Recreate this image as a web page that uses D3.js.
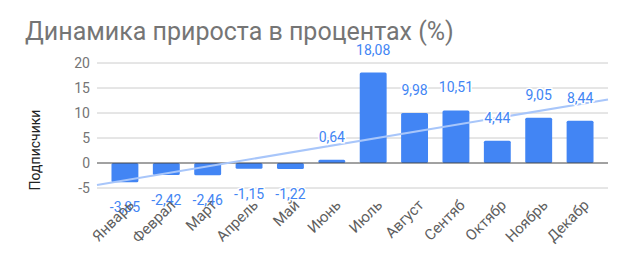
<!DOCTYPE html>
<html>
<head>
<meta charset="utf-8">
<script src="https://cdn.jsdelivr.net/npm/d3@7"></script>
<style>
  body { margin: 0; background: #fff; }
  text { font-family: Roboto, "Noto Sans", sans-serif; }
</style>
</head>
<body>
<script>
// Data
const months = ["Январь", "Феврал", "Март", "Апрель", "Май", "Июнь", "Июль", "Август", "Сентяб", "Октябр", "Ноябрь", "Декабр"];
const growth = [-3.85, -2.42, -2.46, -1.15, -1.22, 0.64, 18.08, 9.98, 10.51, 4.44, 9.05, 8.44];
const yTicks = [-5, 0, 5, 10, 15, 20];

const width = 617, height = 261;
const margin = {top: 63, right: 9, bottom: 73, left: 97};

const svg = d3.select("body").append("svg")
    .attr("width", width)
    .attr("height", height);

const x = d3.scaleBand()
    .domain(months)
    .range([margin.left, width - margin.right])
    .paddingInner(0.35)
    .paddingOuter(0.35);

const y = d3.scaleLinear()
    .domain([-5, 20])
    .range([height - margin.bottom, margin.top]);

// Title
svg.append("text")
    .attr("x", 25)
    .attr("y", 40)
    .attr("fill", "#757575")
    .attr("font-size", "25px")
    .text("Динамика прироста в процентах (%)");

// Gridlines + tick labels
svg.append("g")
  .selectAll("line")
  .data(yTicks.filter(d => d !== 0))
  .join("line")
    .attr("x1", margin.left)
    .attr("x2", width - margin.right)
    .attr("y1", d => y(d))
    .attr("y2", d => y(d))
    .attr("stroke", "#cccccc")
    .attr("stroke-width", 1);

svg.append("g")
  .selectAll("text")
  .data(yTicks)
  .join("text")
    .attr("x", 90)
    .attr("y", d => y(d))
    .attr("dy", "0.35em")
    .attr("text-anchor", "end")
    .attr("fill", "#757575")
    .attr("font-size", "14px")
    .text(d => d);

// Y axis title
svg.append("text")
    .attr("transform", "translate(40,150) rotate(-90)")
    .attr("text-anchor", "middle")
    .attr("fill", "#222")
    .attr("font-size", "14px")
    .text("Подписчики");

// Bars
svg.append("g")
  .selectAll("rect")
  .data(growth)
  .join("rect")
    .attr("x", (d, i) => x(months[i]))
    .attr("y", d => y(Math.max(0, d)))
    .attr("width", x.bandwidth())
    .attr("height", d => Math.abs(y(d) - y(0)))
    .attr("rx", 1.5)
    .attr("fill", "#4285f4");

// Zero line
svg.append("line")
    .attr("x1", margin.left)
    .attr("x2", width - margin.right)
    .attr("y1", y(0))
    .attr("y2", y(0))
    .attr("stroke", "#444")
    .attr("stroke-width", 1);

// Linear trend line (least squares over month index)
const idx = growth.map((d, i) => i);
const mx = d3.mean(idx), my = d3.mean(growth);
const slope = d3.sum(idx, i => (i - mx) * (growth[i] - my)) / d3.sum(idx, i => (i - mx) ** 2);
const intercept = my - slope * mx;
const pos = i => x(months[0]) + x.bandwidth() / 2 + i * x.step();
const toIdx = px => (px - x(months[0]) - x.bandwidth() / 2) / x.step();
const xEnds = [margin.left, width - margin.right];

svg.append("line")
    .attr("x1", xEnds[0])
    .attr("x2", xEnds[1])
    .attr("y1", y(intercept + slope * toIdx(xEnds[0])))
    .attr("y2", y(intercept + slope * toIdx(xEnds[1])))
    .attr("stroke", "#a8c6fa")
    .attr("stroke-width", 2);

// Data labels
const fmt = d => d3.format(".2f")(d).replace(".", ",").replace("\u2212", "-");
svg.append("g")
  .selectAll("text")
  .data(growth)
  .join("text")
    .attr("x", (d, i) => pos(i))
    .attr("y", d => d >= 0 ? y(d) - 18 : y(d) + 30)
    .attr("text-anchor", "middle")
    .attr("fill", "#4285f4")
    .attr("font-size", "14px")
    .attr("stroke", "#fff")
    .attr("stroke-width", 3)
    .attr("paint-order", "stroke")
    .text(fmt);

// X axis labels
svg.append("g")
  .selectAll("text")
  .data(months)
  .join("text")
    .attr("transform", (d, i) => `translate(${pos(i) + 10},${206}) rotate(-45)`)
    .attr("text-anchor", "end")
    .attr("fill", "#5f5f5f")
    .attr("font-size", "15px")
    .text(d => d);
</script>
</body>
</html>
